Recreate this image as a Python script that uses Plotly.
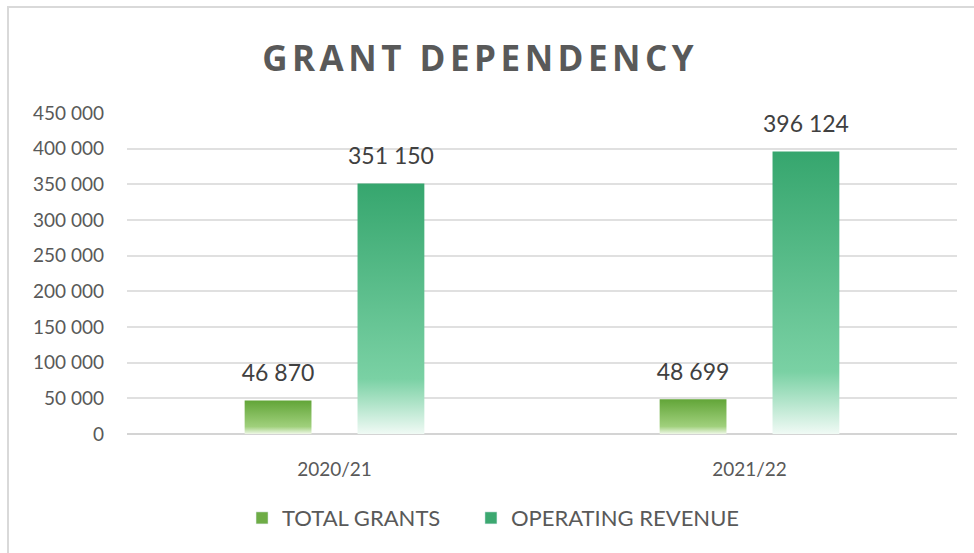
import plotly.graph_objects as go

# ---- data ----
categories = ["2020/21", "2021/22"]
series_names = ["TOTAL GRANTS", "OPERATING REVENUE"]
total_grants = [46870, 48699]
operating_revenue = [351150, 396124]
y_tick_values = [0, 50000, 100000, 150000, 200000, 250000, 300000, 350000, 400000, 450000]
title_text = "GRANT DEPENDENCY"

# ---- style ----
bar_width = 0.161
offsets = [-0.136, 0.136]
scales = [
    [[0, "rgb(238,247,230)"], [0.22, "rgb(160,208,124)"], [1, "rgb(98,165,56)"]],
    [[0, "rgb(240,250,245)"], [0.22, "rgb(122,209,164)"], [1, "rgb(54,166,110)"]],
]
legend_colors = ["rgb(110,172,70)", "rgb(60,168,112)"]
legend_ids = ["legend", "legend2"]
legend_x = [0.1386, 0.4144]
FONT = "Lato, 'Open Sans', sans-serif"

fig = go.Figure()
for s, values in enumerate([total_grants, operating_revenue]):
    for i, v in enumerate(values):
        xc = i + offsets[s]
        x0, x1 = xc - bar_width / 2, xc + bar_width / 2
        fig.add_trace(go.Scatter(
            x=[x0, x1, x1, x0, x0], y=[0, 0, v, v, 0],
            mode="lines", fill="toself", line=dict(width=0),
            fillgradient=dict(type="vertical", colorscale=scales[s], start=0, stop=v),
            name=series_names[s], legendgroup=series_names[s], showlegend=False,
            hoverinfo="skip",
        ))
    # data labels
    fig.add_trace(go.Scatter(
        x=[i + offsets[s] for i in range(len(values))], y=values,
        mode="markers+text", marker=dict(size=20, opacity=0),
        text=[f"{v:,}".replace(",", " ") for v in values],
        textposition="top center",
        textfont=dict(family=FONT, size=23, color="#404040"),
        showlegend=False, hoverinfo="skip", cliponaxis=False,
    ))
    # legend proxy
    fig.add_trace(go.Bar(
        x=[None], y=[None], name=series_names[s], legendgroup=series_names[s],
        marker=dict(color=legend_colors[s]), showlegend=True, legend=legend_ids[s],
    ))

legend_common = dict(orientation="h", xanchor="left", y=-0.262, yanchor="middle",
                     font=dict(family=FONT, size=22, color="#595959"),
                     itemclick=False, itemdoubleclick=False, bgcolor="rgba(0,0,0,0)")

fig.update_layout(
    width=974, height=553,
    margin=dict(l=127, r=17, t=113, b=119),
    paper_bgcolor="white", plot_bgcolor="white",
    separators=". ",
    title=dict(text=f'<span style="letter-spacing:4.5px">{title_text}</span>',
               x=0.493, xanchor="center", y=0.893, yanchor="middle",
               font=dict(family="'Open Sans', sans-serif", size=35, weight=700, color="#595959")),
    xaxis=dict(range=[-0.5, 1.5], tickvals=list(range(len(categories))), ticktext=categories,
               showgrid=False, zeroline=False, showline=False, ticks="",
               ticklabelstandoff=22,
               tickfont=dict(family=FONT, size=19, color="#595959"), fixedrange=True),
    yaxis=dict(range=[0, 450000], tickvals=y_tick_values, tickformat=",d",
               showgrid=True, gridcolor="#e0e0e0", gridwidth=1.5,
               zeroline=True, zerolinecolor="#d4d4d4", zerolinewidth=2,
               showline=False, ticks="", ticklabelstandoff=22,
               tickfont=dict(family=FONT, size=19, color="#595959"), fixedrange=True),
    legend=dict(x=legend_x[0], **legend_common),
    legend2=dict(x=legend_x[1], **legend_common),
    showlegend=True,
    shapes=[dict(type="rect", xref="paper", yref="paper",
                 x0=(8 - 127) / 830, x1=(990 - 127) / 830,
                 y0=(434 - 600) / 321, y1=(434 - 7) / 321,
                 line=dict(color="#d9d9d9", width=2), fillcolor="rgba(0,0,0,0)", layer="below")],
)

fig.write_html("out.html", config={"displayModeBar": False},
               post_script="document.body.style.margin='0';")
